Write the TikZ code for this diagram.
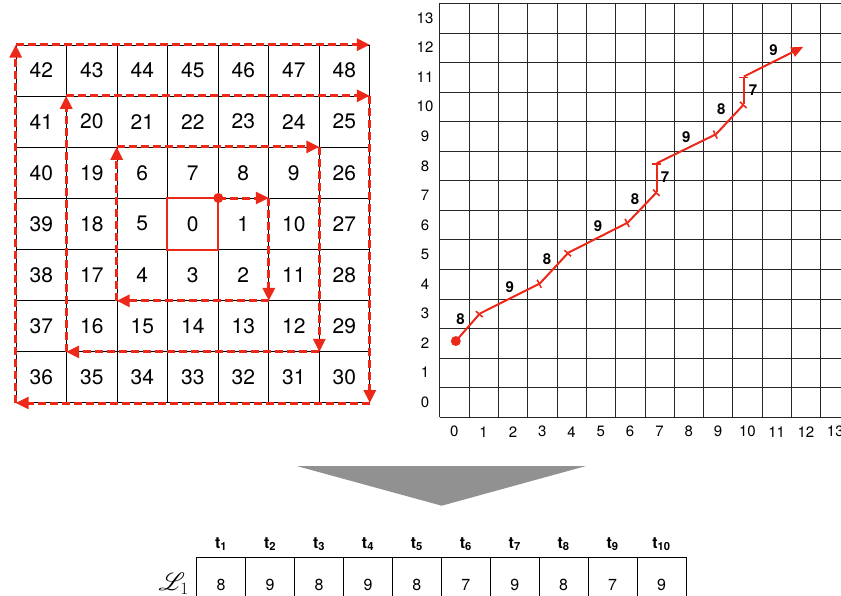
\documentclass[tikz,border=0pt]{standalone}
\usepackage{fontspec}
\setsansfont{TeX Gyre Heros}
\usepackage{mathrsfs}
\usetikzlibrary{positioning,arrows.meta}
\definecolor{spiralred}{RGB}{236,40,24}
\definecolor{funnelgray}{RGB}{145,145,145}

\begin{document}
\begin{tikzpicture}[x=1pt,y=-1pt, every node/.style={font=\sffamily},
    cell/.style={draw,line width=0.6pt,minimum width=50.5pt,minimum height=51.1pt,inner sep=0pt,font=\sffamily\fontsize{21}{24}\selectfont},
    ring/.style={draw=spiralred,line width=3pt,dash pattern=on 8pt off 4pt,-{Triangle[length=13pt,width=12pt]}},
    walk/.style={draw=spiralred,line width=2pt,-{Bar[width=9pt,line width=1.6pt]}},
    wlabel/.style={font=\sffamily\bfseries\fontsize{15}{17}\selectfont,inner sep=2pt},
    axis/.style={font=\sffamily\fontsize{15}{17}\selectfont},
    slot/.style={draw,line width=0.6pt,minimum width=48.93pt,minimum height=55.4pt,inner sep=0pt,font=\sffamily\fontsize{16}{18}\selectfont},
    hdr/.style={font=\sffamily\bfseries\fontsize{16}{18}\selectfont,inner sep=1pt}]
  \useasboundingbox (0,0) rectangle (841,595);

  \foreach \row [count=\r from 0] in {{42,43,44,45,46,47,48},{41,20,21,22,23,24,25},{40,19,6,7,8,9,26},{39,18,5,0,1,10,27},{38,17,4,3,2,11,28},{37,16,15,14,13,12,29},{36,35,34,33,32,31,30}}
    \foreach \n [count=\c from 0] in \row
      \node[cell] (c\n) at ({16+50.5*(\c+0.5)},{45+51.1*(\r+0.5)}) {\n};
  \draw[spiralred,line width=1.8pt] (c0.north west) rectangle (c0.south east);
  \foreach \a/\b in {c0.north east/c1.north east,c1.north east/c2.south east,c2.south east/c4.south west,c4.south west/c6.north west,c6.north west/c9.north east,c9.north east/c12.south east,c12.south east/c16.south west,c16.south west/c20.north west,c20.north west/c25.north east,c25.north east/c30.south east,c30.south east/c36.south west,c36.south west/c42.north west,c42.north west/c48.north east}
    \draw[ring] (\a) -- (\b);
  \fill[spiralred] (c0.north east) circle (5pt);

  \begin{scope}[shift={(439.7,417)},x=29.3pt,y=29.55pt]
    \draw[black!85,line width=0.6pt,step=1] (0,0) grid (13.8,14);
    \foreach \k in {0,...,13} {\node[axis] (xt\k) at (\k+0.5,-0.5) {\k}; \node[axis] (yt\k) at (-0.5,\k+0.5) {\k};}
    \coordinate (p0) at (0.55,2.57); \coordinate (p1) at (1.37,3.5); \coordinate (p2) at (3.42,4.52);
    \coordinate (p3) at (4.39,5.56); \coordinate (p4) at (6.42,6.58); \coordinate (p5) at (7.41,7.61);
    \coordinate (p6) at (7.41,8.59); \coordinate (p7) at (9.43,9.57); \coordinate (p8) at (10.38,10.58);
    \coordinate (p9) at (10.38,11.52); \coordinate (p10) at (12.41,12.53);
    \fill[spiralred] (p0) circle (5pt);
    \draw[walk] (p0) -- node[wlabel,above left] (w1) {8} (p1);
    \draw[walk] (p1) -- node[wlabel,above=3pt] (w2) {9} (p2);
    \draw[walk] (p2) -- node[wlabel,above left] (w3) {8} (p3);
    \draw[walk] (p3) -- node[wlabel,above=3pt] (w4) {9} (p4);
    \draw[walk] (p4) -- node[wlabel,above left] (w5) {8} (p5);
    \draw[walk] (p5) -- node[wlabel,right=1pt] (w6) {7} (p6);
    \draw[walk] (p6) -- node[wlabel,above=3pt] (w7) {9} (p7);
    \draw[walk] (p7) -- node[wlabel,above left=2pt] (w8) {8} (p8);
    \draw[walk] (p8) -- node[wlabel,right=2pt] (w9) {7} (p9);
    \draw[walk,-{Triangle[length=12pt,width=10pt]}] (p9) -- node[wlabel,above=3pt] (w10) {9} (p10);
  \end{scope}

  \fill[funnelgray] (296.7,466) -- (586,466) -- (441.7,505.7) -- cycle;

  \foreach \v [count=\k] in {8,9,8,9,8,7,9,8,7,9} {
    \node[slot] (s\k) at ({196.7+48.93*(\k-0.5)},585) {\v};
    \node[hdr,above=5pt of s\k] (h\k) {t\textsubscript{\k}};
  }
  \node[left=4pt of s1,yshift=1.5pt,font=\fontsize{26}{28}\selectfont] (lrow) {$\mathscr{L}_1$};
\end{tikzpicture}
\end{document}
